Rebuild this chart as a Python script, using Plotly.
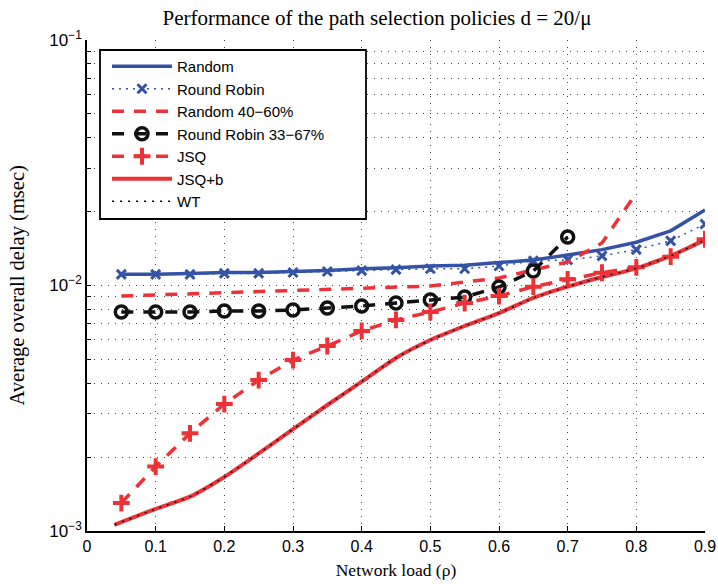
import plotly.graph_objects as go

load = [0.05, 0.1, 0.15, 0.2, 0.25, 0.3, 0.35, 0.4, 0.45, 0.5, 0.55, 0.6, 0.65, 0.7, 0.75, 0.8, 0.85, 0.9]

random_delay = [0.0111, 0.0111, 0.0112, 0.0113, 0.0113, 0.0114, 0.0115, 0.0117, 0.0118, 0.0120,
                0.0121, 0.0124, 0.0127, 0.0133, 0.0140, 0.0150, 0.0167, 0.0203]
rr_delay = [0.0111, 0.0111, 0.0111, 0.0112, 0.0112, 0.0113, 0.0114, 0.0115, 0.0116, 0.0117,
            0.0117, 0.0120, 0.0126, 0.0127, 0.0132, 0.0140, 0.0152, 0.0178]
load_r4060 = [0.05, 0.1, 0.15, 0.2, 0.25, 0.3, 0.35, 0.4, 0.45, 0.5, 0.55, 0.6, 0.65, 0.7, 0.75, 0.8]
r4060_delay = [0.00906, 0.00915, 0.00923, 0.00932, 0.00941, 0.00950, 0.00965, 0.00977, 0.00986, 0.00995,
               0.01033, 0.01073, 0.01157, 0.01246, 0.01490, 0.0238]
load_rr3367 = [0.05, 0.1, 0.15, 0.2, 0.25, 0.3, 0.35, 0.4, 0.45, 0.5, 0.55, 0.6, 0.65, 0.7]
rr3367_delay = [0.0078, 0.0078, 0.0078, 0.00787, 0.00787, 0.00795, 0.0081, 0.00825, 0.00848, 0.00873,
                0.00898, 0.00986, 0.01146, 0.01576]
jsq_delay = [0.0013, 0.00183, 0.0025, 0.00329, 0.00412, 0.00497, 0.00567, 0.00653, 0.00724, 0.0078,
             0.00848, 0.00906, 0.00989, 0.0106, 0.01127, 0.01186, 0.01311, 0.01543]
load_b = [0.04, 0.1, 0.15, 0.2, 0.25, 0.3, 0.35, 0.4, 0.45, 0.5, 0.55, 0.6, 0.65, 0.7, 0.75, 0.8, 0.85, 0.9]
jsqb_delay = [0.00106, 0.00123, 0.00138, 0.00166, 0.00207, 0.0026, 0.00326, 0.00406, 0.00507, 0.0060,
              0.00684, 0.00772, 0.0089, 0.00989, 0.01083, 0.01175, 0.0132, 0.0153]
wt_delay = jsqb_delay

x_ticks = [0, 0.1, 0.2, 0.3, 0.4, 0.5, 0.6, 0.7, 0.8, 0.9]
x_ticklabels = ["0", "0.1", "0.2", "0.3", "0.4", "0.5", "0.6", "0.7", "0.8", "0.9"]

BLUE = "#3553a6"
RED = "#ec3237"
BLACK = "#111111"
GRID = "#444444"

y_vals = []
y_text = []
for e in (-3, -2):
    for m in range(1, 10):
        y_vals.append(m * 10 ** e)
        y_text.append("10<sup>\u2212%d</sup>" % (-e) if m == 1 else "")
y_vals.append(0.1)
y_text.append("10<sup>\u22121</sup>")

fig = go.Figure()
fig.add_trace(go.Scatter(x=load, y=random_delay, name="Random", mode="lines",
                         line=dict(color=BLUE, width=3.5)))
fig.add_trace(go.Scatter(x=load, y=rr_delay, name="Round Robin", mode="lines+markers",
                         line=dict(color=BLUE, width=1.5, dash="2px,5px"),
                         marker=dict(symbol="x-thin-open", size=9, line=dict(color=BLUE, width=3))))
fig.add_trace(go.Scatter(x=load_r4060, y=r4060_delay, name="Random 40\u221260%", mode="lines",
                         line=dict(color=RED, width=3.5, dash="12px,10px")))
fig.add_trace(go.Scatter(x=load_rr3367, y=rr3367_delay, name="Round Robin 33\u221267%", mode="lines+markers",
                         line=dict(color=BLACK, width=3.5, dash="12px,10px"),
                         marker=dict(symbol="circle-open", size=12, line=dict(color=BLACK, width=3.5))))
fig.add_trace(go.Scatter(x=load, y=jsq_delay, name="JSQ", mode="lines+markers",
                         line=dict(color=RED, width=3.5, dash="12px,10px"),
                         marker=dict(symbol="cross-thin-open", size=12, line=dict(color=RED, width=4))))
fig.add_trace(go.Scatter(x=load_b, y=jsqb_delay, name="JSQ+b", mode="lines",
                         line=dict(color=RED, width=4, shape="spline", smoothing=0.6)))
fig.add_trace(go.Scatter(x=load_b, y=wt_delay, name="WT", mode="lines",
                         line=dict(color=BLACK, width=1.5, dash="2px,6px", shape="spline", smoothing=0.6)))

# legend box (pixel geometry of the plot area: x 87..705, y 40..531)
L, R, T, B = 87, 13, 40, 53
pw, ph = 718.0 - L - R, 584.0 - T - B
fig.add_shape(type="rect", xref="paper", yref="paper",
              x0=(100 - L) / pw, x1=(366 - L) / pw,
              y0=(531 - 219) / ph, y1=(531 - 50) / ph,
              line=dict(color="black", width=1.8), fillcolor="white", layer="above")

fig.add_annotation(text="Average overall delay (msec)", xref="paper", yref="paper",
                   x=(17 - L) / pw, y=0.5, textangle=-90, showarrow=False,
                   xanchor="center", yanchor="middle",
                   font=dict(family="Liberation Serif", size=20.5, color="black"))

fig.update_layout(
    width=718, height=584,
    margin=dict(l=L, r=R, t=T, b=B, autoexpand=False),
    paper_bgcolor="white", plot_bgcolor="white",
    title=dict(text="Performance of the path selection policies d = 20/\u03bc",
               x=0.525, xanchor="center", y=0.983, yanchor="top",
               font=dict(family="Liberation Serif", size=21, color="black")),
    showlegend=True,
    legend=dict(x=(107 - L) / pw, y=(531 - 50) / ph, xanchor="left", yanchor="top",
                bgcolor="rgba(0,0,0,0)", borderwidth=0,
                font=dict(family="Liberation Sans", size=15, color="black"),
                itemwidth=60, tracegroupgap=0),
    font=dict(family="Liberation Sans", size=16, color="black"),
)
fig.update_xaxes(range=[0, 0.9], tickvals=x_ticks, ticktext=x_ticklabels, automargin=False,
                 showline=True, linecolor="black", linewidth=1.5, ticks="inside", ticklen=5,
                 tickcolor="black", showgrid=True, gridcolor=GRID, griddash="1px,6px", gridwidth=1,
                 zeroline=False, mirror=False, ticklabeloverflow="allow",
                 title=dict(text="Network load (\u03c1)", font=dict(family="Liberation Serif", size=17.5),
                            standoff=10),
                 tickfont=dict(family="Liberation Sans", size=16))
fig.update_yaxes(type="log", range=[-3, -1], tickvals=y_vals, ticktext=y_text, automargin=False,
                 showline=True, linecolor="black", linewidth=1.5, ticks="inside", ticklen=4,
                 tickcolor="black", showgrid=True, gridcolor=GRID, griddash="1px,6px", gridwidth=1,
                 zeroline=False, mirror=False,
                 tickfont=dict(family="Liberation Sans", size=17))

fig.write_html("out.html")
